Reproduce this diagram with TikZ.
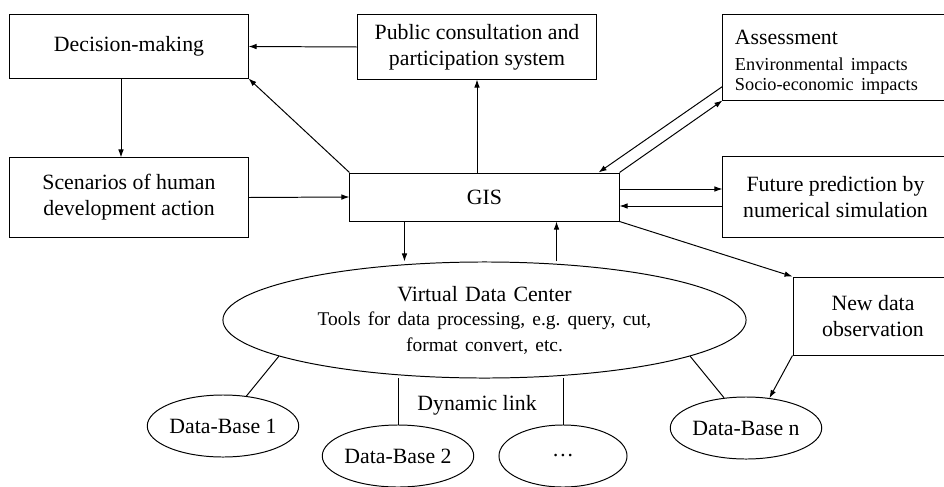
\documentclass[tikz,border=0pt]{standalone}
\usepackage{fontspec}
\setmainfont{Liberation Serif}
\usetikzlibrary{arrows.meta,shapes.geometric}
\newcommand{\subtxt}{\fontsize{13}{14.5}\selectfont}

\begin{document}
\begin{tikzpicture}[x=0.025cm,y=-0.025cm,>={Latex[length=2mm,width=1.4mm]},line width=0.7pt,
  every node/.style={font=\fontsize{15.5}{18.5}\selectfont},
  box/.style={draw,align=center,inner sep=2pt},
  dbase/.style={draw,ellipse,minimum width=3.2cm,minimum height=1.55cm,inner sep=0pt}]
\useasboundingbox (0,0) rectangle (944,486);
% boxes of the upper part
\node[box,minimum width=5.95cm,minimum height=1.575cm] (decision) at (129,46.5) {Decision-making};
\node[box,minimum width=5.95cm,minimum height=1.6cm] (public) at (477,47) {Public consultation and\\participation system};
\node[draw,align=left,text width=5.025cm,inner xsep=0.3cm,minimum height=2.125cm] (assess) at (835.5,57.5) {\raisebox{-0.12cm}[\height][\depth]{\begin{tabular}{@{}l@{}}Assessment\\\subtxt Environmental impacts\\[-4.3pt]\subtxt Socio-economic impacts\end{tabular}}};
\node[box,minimum width=5.95cm,minimum height=1.975cm] (scen) at (129,197.5) {Scenarios of human\\development action};
\node[box,minimum width=6.725cm,minimum height=1.2cm] (gis) at (484.5,197) {GIS};
\node[box,minimum width=5.625cm,minimum height=2cm] (future) at (835.5,197) {Future prediction by\\numerical simulation};
\node[box,minimum width=4cm,minimum height=1.95cm] (newdata) at (873,316) {New data\\observation};
% data centre and data bases
\node[draw,ellipse,minimum width=13.075cm,minimum height=2.9cm,inner sep=0pt,text width=8.5cm,align=center] (vdc) at (484.5,320) {Virtual Data Center\\\fontsize{13.8}{17}\selectfont Tools for data processing, e.g.\ query, cut,\\format convert, etc.};
\node[dbase] (db1) at (223,426) {Data-Base 1};
\node[dbase] (db2) at (398,456) {Data-Base 2};
\node[dbase] (dots) at (563,456) {\dots};
\node[dbase] (dbn) at (746,428) {Data-Base n};
\node (dynlink) at (477,405) {Dynamic link};
% connectors
\draw[->] (public.west) -- (decision.east);
\draw[->] ([xshift=-0.2cm]decision.south) -- ([xshift=-0.2cm]scen.north);
\draw[->] (scen.east) -- (gis.west);
\draw[->] (gis.north west) -- (decision.south east);
\draw[->] (public.south |- gis.north) -- (public.south);
\draw[->] ([yshift=0.35cm]assess.south west) -- ([xshift=-0.525cm]gis.north east);
\draw[->] (gis.north east) -- (assess.south west);
\draw[->] ([yshift=0.2cm]gis.east) -- ([yshift=0.2cm]gis.east -| future.west);
\draw[->] ([yshift=-0.225cm]future.west) -- ([yshift=-0.225cm]future.west -| gis.east);
\draw[->] (gis.south east) -- (newdata.north west);
\draw[->] (newdata.south west) -- (dbn.52);
\draw[->] ([xshift=-2cm]gis.south) -- ([xshift=-2cm]gis.south |- vdc.north);
\draw[->] ([xshift=1.8cm]gis.south |- vdc.north) -- ([xshift=1.8cm]gis.south);
\draw (vdc.190) -- (db1.52);
\draw (vdc.-10) -- (dbn.126);
\draw (db2.north) -- ++(0,-47);
\draw (dots.north) -- ++(0,-47);
\end{tikzpicture}
\end{document}
